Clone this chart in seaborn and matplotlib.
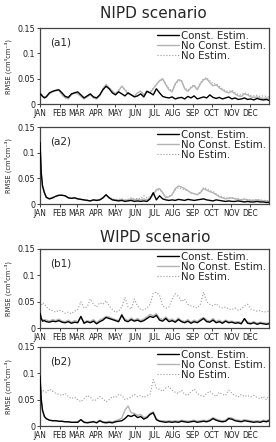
import matplotlib
matplotlib.use("Agg")
import matplotlib.pyplot as plt
from matplotlib import font_manager
import seaborn as sns
import pandas as pd

# ---------------- data ----------------
days = [1, 3, 5, 8] + list(range(11, 362, 5)) + [365]

month_starts = [1, 32, 60, 91, 121, 152, 182, 213, 244, 274, 305, 335]
month_labels = ["JAN", "FEB", "MAR", "APR", "MAY", "JUN",
                "JUL", "AUG", "SEP", "OCT", "NOV", "DEC"]
yticks = [0, 0.05, 0.1, 0.15]
ytick_labels = ["0", "0.05", "0.1", "0.15"]
series_names = ["Const. Estim.", "No Const. Estim.", "No Estim."]
panel_tags = ["(a1)", "(a2)", "(b1)", "(b2)"]
titles = ["NIPD scenario", "WIPD scenario"]

a1_const = [0.020, 0.018, 0.015, 0.012, 0.014, 0.022, 0.025, 0.027, 0.028, 0.022,
            0.015, 0.013, 0.020, 0.022, 0.024, 0.018, 0.012, 0.016, 0.020, 0.014,
            0.012, 0.018, 0.028, 0.035, 0.030, 0.022, 0.018, 0.024, 0.020, 0.016,
            0.022, 0.018, 0.014, 0.016, 0.020, 0.014, 0.025, 0.022, 0.018, 0.030,
            0.022, 0.015, 0.013, 0.012, 0.014, 0.010, 0.012, 0.013, 0.010, 0.015,
            0.012, 0.016, 0.010, 0.012, 0.014, 0.012, 0.018, 0.013, 0.011, 0.013,
            0.010, 0.012, 0.014, 0.010, 0.012, 0.009, 0.010, 0.012, 0.009, 0.010,
            0.008, 0.011, 0.009, 0.008, 0.009, 0.007]
a1_noconst = [0.022, 0.020, 0.016, 0.013, 0.015, 0.020, 0.024, 0.026, 0.027, 0.018,
              0.012, 0.010, 0.018, 0.022, 0.020, 0.015, 0.010, 0.014, 0.018, 0.012,
              0.010, 0.016, 0.030, 0.038, 0.032, 0.025, 0.020, 0.026, 0.035, 0.028,
              0.020, 0.018, 0.015, 0.022, 0.025, 0.018, 0.025, 0.022, 0.030, 0.038,
              0.046, 0.050, 0.038, 0.028, 0.024, 0.040, 0.048, 0.046, 0.030, 0.025,
              0.032, 0.036, 0.028, 0.040, 0.048, 0.050, 0.042, 0.036, 0.038, 0.032,
              0.028, 0.024, 0.022, 0.025, 0.020, 0.016, 0.015, 0.020, 0.018, 0.014,
              0.013, 0.014, 0.012, 0.011, 0.012, 0.010]
a1_noest = [0.023, 0.021, 0.017, 0.014, 0.016, 0.021, 0.025, 0.027, 0.028, 0.019,
            0.013, 0.011, 0.019, 0.023, 0.021, 0.016, 0.011, 0.015, 0.019, 0.013,
            0.011, 0.017, 0.031, 0.039, 0.033, 0.026, 0.021, 0.027, 0.036, 0.029,
            0.021, 0.019, 0.016, 0.023, 0.026, 0.019, 0.026, 0.024, 0.031, 0.039,
            0.045, 0.048, 0.040, 0.030, 0.026, 0.038, 0.046, 0.045, 0.032, 0.027,
            0.034, 0.038, 0.030, 0.042, 0.050, 0.052, 0.046, 0.040, 0.040, 0.035,
            0.030, 0.026, 0.025, 0.027, 0.022, 0.019, 0.018, 0.022, 0.020, 0.017,
            0.016, 0.017, 0.015, 0.016, 0.015, 0.014]

a2_const = [0.120, 0.060, 0.035, 0.022, 0.013, 0.010, 0.012, 0.015, 0.017, 0.017,
            0.016, 0.012, 0.011, 0.012, 0.010, 0.009, 0.008, 0.007, 0.006, 0.008,
            0.007, 0.008, 0.012, 0.018, 0.012, 0.008, 0.007, 0.006, 0.007, 0.005,
            0.006, 0.007, 0.005, 0.006, 0.005, 0.006, 0.005, 0.010, 0.022, 0.008,
            0.016, 0.010, 0.008, 0.007, 0.008, 0.007, 0.009, 0.008, 0.007, 0.009,
            0.008, 0.007, 0.008, 0.009, 0.010, 0.008, 0.007, 0.006, 0.008, 0.007,
            0.006, 0.005, 0.006, 0.005, 0.005, 0.006, 0.005, 0.004, 0.005, 0.004,
            0.004, 0.005, 0.004, 0.004, 0.003, 0.003]
a2_noconst = [0.120, 0.060, 0.035, 0.022, 0.013, 0.010, 0.012, 0.015, 0.017, 0.017,
              0.016, 0.012, 0.011, 0.012, 0.010, 0.009, 0.008, 0.007, 0.006, 0.008,
              0.007, 0.008, 0.012, 0.018, 0.012, 0.009, 0.008, 0.008, 0.009, 0.007,
              0.008, 0.010, 0.008, 0.009, 0.008, 0.010, 0.008, 0.012, 0.018, 0.028,
              0.030, 0.022, 0.012, 0.014, 0.018, 0.030, 0.035, 0.033, 0.030, 0.026,
              0.022, 0.020, 0.018, 0.022, 0.030, 0.027, 0.024, 0.022, 0.018, 0.014,
              0.012, 0.010, 0.011, 0.012, 0.010, 0.009, 0.008, 0.009, 0.008, 0.007,
              0.007, 0.008, 0.007, 0.006, 0.006, 0.005]
a2_noest = [0.120, 0.060, 0.036, 0.023, 0.014, 0.011, 0.013, 0.015, 0.017, 0.017,
            0.016, 0.013, 0.012, 0.012, 0.010, 0.009, 0.008, 0.008, 0.007, 0.008,
            0.008, 0.009, 0.012, 0.018, 0.013, 0.010, 0.009, 0.009, 0.010, 0.008,
            0.009, 0.012, 0.010, 0.011, 0.010, 0.016, 0.012, 0.014, 0.020, 0.026,
            0.028, 0.022, 0.014, 0.015, 0.018, 0.027, 0.032, 0.030, 0.028, 0.025,
            0.021, 0.020, 0.019, 0.024, 0.032, 0.030, 0.026, 0.024, 0.020, 0.016,
            0.014, 0.012, 0.012, 0.013, 0.011, 0.010, 0.009, 0.010, 0.009, 0.008,
            0.008, 0.009, 0.008, 0.007, 0.007, 0.006]

b1_const = [0.028, 0.018, 0.013, 0.014, 0.012, 0.011, 0.013, 0.012, 0.014, 0.011,
            0.010, 0.012, 0.009, 0.011, 0.010, 0.022, 0.009, 0.012, 0.010, 0.013,
            0.008, 0.012, 0.015, 0.020, 0.018, 0.016, 0.014, 0.012, 0.025, 0.014,
            0.012, 0.016, 0.013, 0.015, 0.012, 0.014, 0.018, 0.022, 0.020, 0.024,
            0.015, 0.013, 0.018, 0.012, 0.014, 0.011, 0.016, 0.012, 0.010, 0.013,
            0.009, 0.012, 0.010, 0.014, 0.018, 0.012, 0.011, 0.015, 0.010, 0.012,
            0.009, 0.013, 0.010, 0.011, 0.009, 0.010, 0.008, 0.018, 0.009, 0.008,
            0.010, 0.007, 0.009, 0.008, 0.007, 0.008]
b1_noconst = [0.030, 0.020, 0.015, 0.016, 0.015, 0.013, 0.016, 0.014, 0.017, 0.013,
              0.012, 0.015, 0.011, 0.014, 0.012, 0.020, 0.011, 0.014, 0.012, 0.016,
              0.010, 0.015, 0.018, 0.022, 0.021, 0.018, 0.016, 0.014, 0.022, 0.017,
              0.014, 0.019, 0.015, 0.018, 0.014, 0.017, 0.021, 0.026, 0.023, 0.027,
              0.018, 0.016, 0.021, 0.015, 0.017, 0.013, 0.019, 0.014, 0.012, 0.016,
              0.011, 0.015, 0.012, 0.017, 0.020, 0.015, 0.013, 0.018, 0.012, 0.015,
              0.011, 0.015, 0.012, 0.013, 0.011, 0.012, 0.010, 0.016, 0.011, 0.010,
              0.012, 0.009, 0.011, 0.010, 0.009, 0.010]
b1_noest = [0.045, 0.042, 0.048, 0.046, 0.040, 0.035, 0.033, 0.030, 0.034, 0.032,
            0.028, 0.030, 0.027, 0.032, 0.035, 0.050, 0.038, 0.040, 0.055, 0.045,
            0.040, 0.048, 0.045, 0.052, 0.042, 0.035, 0.030, 0.032, 0.040, 0.058,
            0.040, 0.036, 0.055, 0.042, 0.035, 0.034, 0.038, 0.045, 0.066, 0.068,
            0.062, 0.042, 0.038, 0.040, 0.055, 0.065, 0.060, 0.050, 0.055, 0.045,
            0.042, 0.040, 0.038, 0.045, 0.068, 0.050, 0.045, 0.042, 0.046, 0.040,
            0.038, 0.040, 0.036, 0.035, 0.038, 0.034, 0.036, 0.042, 0.045, 0.036,
            0.034, 0.032, 0.033, 0.030, 0.031, 0.032]

b2_const = [0.095, 0.050, 0.030, 0.018, 0.014, 0.011, 0.010, 0.010, 0.009, 0.009,
            0.008, 0.008, 0.007, 0.007, 0.007, 0.012, 0.007, 0.006, 0.007, 0.008,
            0.006, 0.010, 0.007, 0.006, 0.007, 0.006, 0.008, 0.009, 0.010, 0.014,
            0.020, 0.018, 0.021, 0.016, 0.018, 0.013, 0.016, 0.022, 0.025, 0.012,
            0.009, 0.008, 0.007, 0.008, 0.007, 0.008, 0.007, 0.009, 0.008, 0.007,
            0.008, 0.009, 0.007, 0.008, 0.009, 0.008, 0.010, 0.014, 0.011, 0.009,
            0.008, 0.009, 0.014, 0.013, 0.010, 0.009, 0.008, 0.010, 0.009, 0.008,
            0.007, 0.008, 0.007, 0.009, 0.008, 0.010]
b2_noconst = [0.095, 0.050, 0.030, 0.018, 0.014, 0.011, 0.010, 0.010, 0.009, 0.009,
              0.008, 0.008, 0.007, 0.007, 0.008, 0.012, 0.008, 0.007, 0.008, 0.009,
              0.007, 0.011, 0.008, 0.008, 0.009, 0.008, 0.010, 0.012, 0.015, 0.030,
              0.038, 0.025, 0.024, 0.020, 0.022, 0.016, 0.018, 0.024, 0.027, 0.014,
              0.010, 0.010, 0.009, 0.010, 0.009, 0.010, 0.009, 0.011, 0.010, 0.009,
              0.010, 0.011, 0.009, 0.010, 0.011, 0.010, 0.012, 0.016, 0.013, 0.011,
              0.010, 0.011, 0.016, 0.015, 0.012, 0.011, 0.010, 0.012, 0.011, 0.010,
              0.009, 0.010, 0.009, 0.011, 0.010, 0.012]
b2_noest = [0.065, 0.062, 0.068, 0.066, 0.064, 0.070, 0.066, 0.062, 0.060, 0.058,
            0.062, 0.056, 0.052, 0.055, 0.050, 0.046, 0.052, 0.058, 0.055, 0.048,
            0.050, 0.056, 0.052, 0.046, 0.050, 0.056, 0.054, 0.060, 0.058, 0.050,
            0.052, 0.055, 0.060, 0.056, 0.058, 0.054, 0.058, 0.060, 0.088, 0.072,
            0.070, 0.066, 0.072, 0.075, 0.068, 0.064, 0.062, 0.068, 0.060, 0.058,
            0.065, 0.070, 0.062, 0.058, 0.056, 0.062, 0.066, 0.060, 0.056, 0.064,
            0.060, 0.058, 0.068, 0.062, 0.058, 0.055, 0.060, 0.056, 0.058, 0.055,
            0.058, 0.054, 0.052, 0.056, 0.050, 0.058]

panels = [
    (a1_const, a1_noconst, a1_noest),
    (a2_const, a2_noconst, a2_noest),
    (b1_const, b1_noconst, b1_noest),
    (b2_const, b2_noconst, b2_noest),
]

# ---------------- style ----------------
sns.set_style("ticks")
plt.rcParams['font.family'] = ['DejaVu Sans']

installed = {(f.name, f.stretch) for f in font_manager.fontManager.ttflist}
names = {n for n, _ in installed}
if 'Liberation Sans Narrow' in names:
    tick_font = dict(family='Liberation Sans Narrow')
    tick_size = 6.5
elif ('DejaVu Sans', 'condensed') in installed or ('DejaVu Sans', 'semi-condensed') in installed:
    tick_font = dict(family='DejaVu Sans', stretch='condensed')
    tick_size = 6.0
else:
    tick_font = dict(family='Liberation Sans')
    tick_size = 5.7

styles = [
    dict(color="#000000", lw=1.0, ls="-", z=3),
    dict(color="#b4b4b4", lw=1.0, ls="-", z=2),
    dict(color="#9a9a9a", lw=0.8, ls=":", z=1),
]

W, H = 276, 442
fig = plt.figure(figsize=(W / 100, H / 100), dpi=100)

# axes boxes in pixels: (top, bottom)
boxes = [(28, 104), (127, 204), (249, 328), (347, 426)]
left_px, right_px = 40, 269

for i, ((top, bot), series) in enumerate(zip(boxes, panels)):
    ax = fig.add_axes([left_px / W, 1 - bot / H, (right_px - left_px) / W, (bot - top) / H])
    df = pd.DataFrame({"day": days * 3,
                       "rmse": series[0] + series[1] + series[2],
                       "kind": [series_names[0]] * len(days)
                       + [series_names[1]] * len(days)
                       + [series_names[2]] * len(days)})
    for name, st in zip(series_names, styles):
        sub = df[df["kind"] == name]
        sns.lineplot(data=sub, x="day", y="rmse", ax=ax, color=st["color"],
                     linewidth=st["lw"], linestyle=st["ls"], zorder=st["z"],
                     label=name, legend=False)
    ax.set_xlim(1, 365)
    ax.set_ylim(0, 0.15)
    ax.set_xticks(month_starts)
    ax.set_xticklabels(month_labels, fontsize=tick_size, **tick_font)
    ax.set_yticks(yticks)
    ax.set_yticklabels(ytick_labels, fontsize=tick_size + 0.5, **tick_font)
    ax.tick_params(axis="both", length=2, width=0.6, pad=1.5, colors="#222222")
    for sp in ax.spines.values():
        sp.set_linewidth(0.9)
        sp.set_color("#444444")
    ax.set_xlabel("")
    ax.set_ylabel("RMSE (cm³cm⁻³)", fontsize=5.3, **tick_font)
    ax.yaxis.set_label_coords(-0.122, 0.5)
    ax.text(0.045, 0.815, panel_tags[i], transform=ax.transAxes,
            fontsize=7.5, ha="left", va="center")
    handles, labels = ax.get_legend_handles_labels()
    ax.legend(handles, labels, loc="upper right", frameon=False, fontsize=7.4,
              handlelength=2.2, handletextpad=0.2, labelspacing=0.0,
              borderaxespad=0.1, borderpad=0.15)

fig.text(153 / W, 1 - 14 / H, titles[0], ha="center", va="center", fontsize=11)
fig.text(155 / W, 1 - 237 / H, titles[1], ha="center", va="center", fontsize=11)

fig.savefig("out.png", dpi=100)
